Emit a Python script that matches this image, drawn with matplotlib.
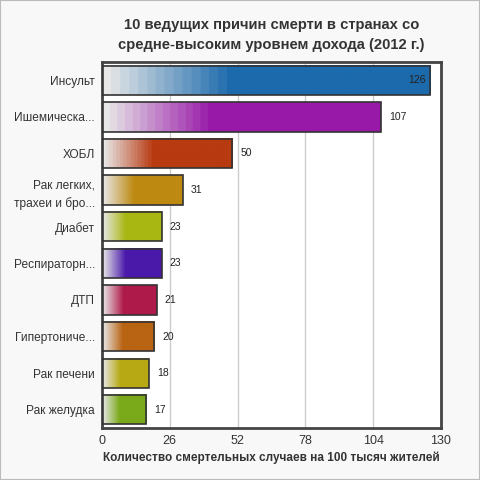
import numpy as np
import matplotlib
matplotlib.use("Agg")
import matplotlib.pyplot as plt
from matplotlib.colors import to_rgb
from matplotlib.patches import Rectangle

causes = ["Инсульт", "Ишемическа...", "ХОБЛ", "Рак легких,\nтрахеи и бро...",
          "Диабет", "Респираторн...", "ДТП", "Гипертониче...", "Рак печени",
          "Рак желудка"]
deaths = [126, 107, 50, 31, 23, 23, 21, 20, 18, 17]
colors = ["#1c6aac", "#9819a8", "#b83a10", "#be8a12", "#a9b712", "#4a19aa",
          "#ae1a4a", "#b86412", "#b7a913", "#7aa91a"]
ticks = [0, 26, 52, 78, 104, 130]

plt.rcParams['font.family'] = ['Liberation Sans', 'DejaVu Sans']
fig = plt.figure(figsize=(4.8, 4.8), dpi=100, facecolor="#f8f8f8")
ax = fig.add_axes([0.2125, 0.108, 0.706, 0.763])
ax.set_facecolor("white")

light = np.array(to_rgb("#e8e8e8"))
n = len(causes)
h = 0.8
for i, (v, c) in enumerate(zip(deaths, colors)):
    y = n - 1 - i
    col = np.array(to_rgb(c))
    xs = np.linspace(0, 1, 400)
    t = np.clip(xs / 0.38, 0, 1)
    t = np.floor(t * 14) / 14
    t[xs >= 0.38] = 1
    img = light[None, :] * (1 - t[:, None]) + col[None, :] * t[:, None]
    ax.imshow(img[None, :, :], extent=[0, v, y - h / 2, y + h / 2],
              aspect="auto", interpolation="bilinear", zorder=2)
    ax.add_patch(Rectangle((0, y - h / 2), v, h, fill=False,
                           edgecolor="#333333", lw=1.2, zorder=3))
    if v > 120:
        ax.text(v - 2, y, str(v), ha="right", va="center", fontsize=7.5,
                color="#222222", zorder=4)
    else:
        ax.text(v + 3, y, str(v), ha="left", va="center", fontsize=7.5,
                color="#222222", zorder=4)

ax.set_xlim(0, 130)
ax.set_ylim(-0.5, n - 0.5)
ax.set_xticks(ticks)
ax.set_xticklabels([str(t) for t in ticks], fontsize=9, color="#333333")
ax.set_yticks(range(n))
ax.set_yticklabels(causes[::-1], fontsize=8.6, color="#333333")
for lab in ax.get_yticklabels():
    lab.set_linespacing(1.55)
ax.tick_params(length=0, pad=5)
ax.xaxis.grid(True, color="#cccccc", lw=1, zorder=1)
ax.set_axisbelow(True)
for s in ax.spines.values():
    s.set_color("#444444")
    s.set_linewidth(2)

fig.text(0.566, 0.927, "10 ведущих причин смерти в странах со\nсредне-высоким уровнем дохода (2012 г.)",
         ha="center", va="center", fontsize=10.6, fontweight="bold",
         color="#333333", linespacing=1.55)
fig.text(0.566, 0.046, "Количество смертельных случаев на 100 тысяч жителей",
         ha="center", va="center", fontsize=8.5, fontweight="bold", color="#333333")
fig.patches.append(Rectangle((0, 0), 1, 1, transform=fig.transFigure,
                             fill=False, edgecolor="#bbbbbb", lw=1.5))

fig.savefig("out.png", dpi=100, facecolor=fig.get_facecolor())
